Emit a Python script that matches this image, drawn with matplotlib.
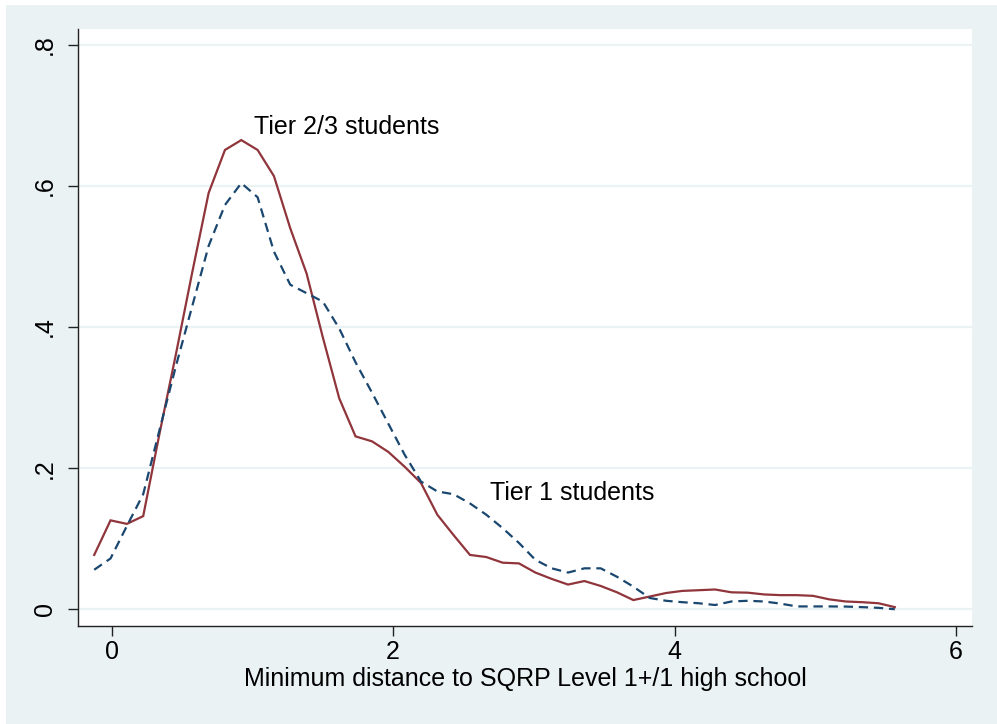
import matplotlib
matplotlib.use("Agg")
import matplotlib.pyplot as plt
from matplotlib.patches import Rectangle

# evaluation points of the density estimates (distance, miles)
distance = [-0.124, -0.008, 0.108, 0.224, 0.341, 0.457, 0.573, 0.689, 0.805, 0.921,
            1.037, 1.153, 1.269, 1.385, 1.501, 1.617, 1.733, 1.850, 1.966, 2.082,
            2.198, 2.314, 2.430, 2.546, 2.662, 2.778, 2.894, 3.011, 3.127, 3.243,
            3.359, 3.475, 3.591, 3.707, 3.823, 3.939, 4.055, 4.172, 4.288, 4.404,
            4.520, 4.636, 4.752, 4.868, 4.984, 5.100, 5.216, 5.333, 5.449, 5.565]

# Tier 2/3 students (solid)
tier23 = [0.077, 0.126, 0.121, 0.132, 0.250, 0.362, 0.478, 0.590, 0.651, 0.665,
          0.651, 0.614, 0.540, 0.476, 0.385, 0.299, 0.245, 0.238, 0.223, 0.202,
          0.179, 0.134, 0.105, 0.077, 0.074, 0.066, 0.065, 0.052, 0.043, 0.035,
          0.040, 0.033, 0.024, 0.013, 0.018, 0.023, 0.026, 0.027, 0.028, 0.024,
          0.0235, 0.021, 0.020, 0.020, 0.019, 0.014, 0.011, 0.010, 0.0085, 0.003]

# Tier 1 students (dashed)
tier1 = [0.056, 0.072, 0.118, 0.163, 0.255, 0.345, 0.430, 0.515, 0.573, 0.604,
         0.584, 0.507, 0.460, 0.448, 0.436, 0.398, 0.350, 0.307, 0.263, 0.219,
         0.181, 0.167, 0.163, 0.150, 0.134, 0.115, 0.094, 0.070, 0.058, 0.052,
         0.058, 0.058, 0.046, 0.032, 0.016, 0.012, 0.010, 0.0085, 0.006, 0.011,
         0.012, 0.011, 0.008, 0.004, 0.004, 0.004, 0.0038, 0.003, 0.002, 0.0]

xticks = [0, 2, 4, 6]
yticks = [0, 0.2, 0.4, 0.6, 0.8]
ytick_labels = ["0", ".2", ".4", ".6", ".8"]

BG = "#EAF2F3"
RED = "#90353B"
BLUE = "#1A476F"


def main():
	plt.rcParams['font.family'] = ['Liberation Sans', 'DejaVu Sans']
	fig = plt.figure(figsize=(9.97, 7.24), dpi=100, facecolor="white")
	# stata style outer region
	fig.patches.append(Rectangle((6 / 997, 0), 1, 1 - 4.5 / 724, transform=fig.transFigure,
								 facecolor=BG, edgecolor="none", zorder=-10))

	ax = fig.add_axes([0.0782, 0.1354, 0.975 - 0.0782, 0.96 - 0.1354])
	ax.set_facecolor("white")

	for y in yticks:
		ax.axhline(y, color=BG, linewidth=1.6, zorder=0)

	ax.plot(distance, tier23, color=RED, linewidth=1.6, solid_joinstyle="miter")
	ax.plot(distance, tier1, color=BLUE, linewidth=1.6, linestyle=(0, (4.2, 2.6)))

	ax.text(1.011, 0.684, "Tier 2/3 students", fontsize=18, va="center", ha="left")
	ax.text(2.69, 0.165, "Tier 1 students", fontsize=18, va="center", ha="left")

	ax.set_xlim(-0.2395, 6.114)
	ax.set_ylim(-0.0237, 0.8225)
	ax.set_xticks(xticks)
	ax.set_xticklabels([str(t) for t in xticks])
	ax.set_yticks(yticks)
	ax.set_yticklabels(ytick_labels, rotation=90, va="center")

	for side in ["top", "right"]:
		ax.spines[side].set_visible(False)
	for side in ["left", "bottom"]:
		ax.spines[side].set_color("#222222")
		ax.spines[side].set_linewidth(1.0)

	ax.tick_params(axis="both", direction="out", length=7, width=1.0, color="#222222",
				   labelsize=18, labelcolor="black")
	ax.tick_params(axis="y", pad=8)
	ax.tick_params(axis="x", pad=3)
	ax.set_xlabel("Minimum distance to SQRP Level 1+/1 high school", fontsize=18, labelpad=2)

	fig.savefig("out.png", dpi=100, facecolor=fig.get_facecolor())


if __name__ == "__main__":
	main()
